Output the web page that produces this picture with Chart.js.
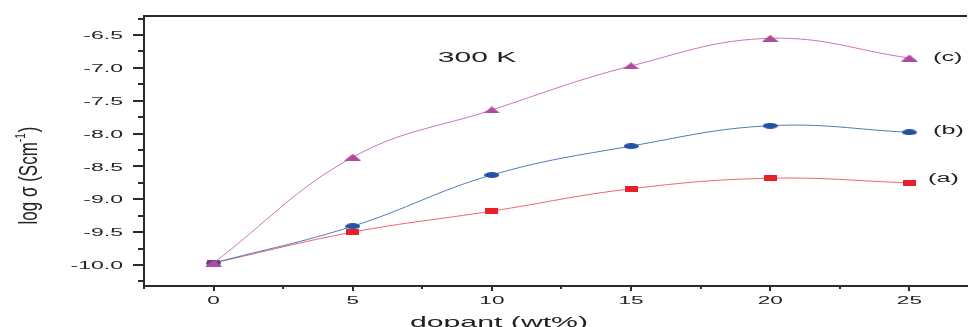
<!DOCTYPE html>
<html>
<head>
<meta charset="utf-8">
<script src="https://cdn.jsdelivr.net/npm/chart.js@4/dist/chart.umd.min.js"></script>
<style>
    html, body { margin: 0; padding: 0; background: #ffffff; }
    #wrap { width: 972px; height: 327px; position: relative; }
</style>
</head>
<body>
<div id="wrap"><canvas id="conductivityChart"></canvas></div>
<script>
// данные
const dopant = [0, 5, 10, 15, 20, 25];
const sampleA = [-9.97, -9.50, -9.18, -8.84, -8.68, -8.75];
const sampleB = [-9.97, -9.41, -8.63, -8.19, -7.88, -7.98];
const sampleC = [-9.97, -8.36, -7.64, -6.97, -6.55, -6.85];
const seriesLabels = ['(a)', '(b)', '(c)'];
const yTickValues = [-10.0, -9.5, -9.0, -8.5, -8.0, -7.5, -7.0, -6.5];
const xTickValues = [0, 5, 10, 15, 20, 25];
const tempLabel = '300 K';

const FONT = '"Liberation Sans", Arial, sans-serif';
const TEXT_COLOR = '#222';

function toPoints(values) {
    return dopant.map((d, i) => ({ x: d, y: values[i] }));
}

// приплюснутые маркеры как в исходной картинке
function makeMarker(shape, w, h, color) {
    const c = document.createElement('canvas');
    c.width = w;
    c.height = h;
    const g = c.getContext('2d');
    g.fillStyle = color;
    g.beginPath();
    if (shape === 'triangle') {
        g.moveTo(w / 2, 0);
        g.lineTo(w, h);
        g.lineTo(0, h);
        g.closePath();
    } else if (shape === 'ellipse') {
        g.ellipse(w / 2, h / 2, w / 2, h / 2, 0, 0, Math.PI * 2);
    } else {
        g.rect(0, 0, w, h);
    }
    g.fill();
    return c;
}

// текст растянут по горизонтали
function stretchedText(ctx, text, x, y, size, sx, align, baseline) {
    ctx.save();
    ctx.translate(x, y);
    ctx.scale(sx, 1);
    ctx.font = size + 'px ' + FONT;
    ctx.textAlign = align;
    ctx.textBaseline = baseline || 'middle';
    ctx.fillText(text, 0, 0);
    ctx.restore();
}

const decorPlugin = {
    id: 'decor',
    afterDraw(chart) {
        const { ctx, chartArea, scales } = chart;
        const xs = scales.x, ys = scales.y;
        ctx.save();
        ctx.strokeStyle = '#2a2a2a';
        ctx.fillStyle = TEXT_COLOR;
        ctx.lineWidth = 2;

        // верхняя граница рамки
        ctx.beginPath();
        ctx.moveTo(chartArea.left, chartArea.top);
        ctx.lineTo(chartArea.right, chartArea.top);
        ctx.stroke();

        // засечки оси Y
        for (let v = -10.25; v <= -6.25 + 1e-9; v += 0.25) {
            const py = Math.round(ys.getPixelForValue(v));
            const major = Math.abs(v * 2 - Math.round(v * 2)) < 1e-6;
            ctx.beginPath();
            ctx.moveTo(chartArea.left, py);
            ctx.lineTo(chartArea.left - (major ? 11 : 6), py);
            ctx.stroke();
        }
        // засечки оси X
        for (let v = -2.5; v <= 27; v += 2.5) {
            const px = Math.round(xs.getPixelForValue(v));
            const major = Math.abs(v % 5) < 1e-6;
            ctx.beginPath();
            ctx.moveTo(px, chartArea.bottom);
            ctx.lineTo(px, chartArea.bottom + (major ? 5 : 3));
            ctx.stroke();
        }

        // подписи делений
        yTickValues.forEach(v => {
            stretchedText(ctx, v.toFixed(1), 123, ys.getPixelForValue(v) + 1, 11.5, 2.0, 'right');
        });
        xTickValues.forEach(v => {
            stretchedText(ctx, String(v), xs.getPixelForValue(v), 300.5, 11, 2.05, 'center');
        });

        // подписи серий
        stretchedText(ctx, seriesLabels[2], 933, 58, 12, 2.1, 'left');
        stretchedText(ctx, seriesLabels[1], 933, 131, 12, 2.1, 'left');
        stretchedText(ctx, seriesLabels[0], 928, 179, 12, 2.1, 'left');

        // температура
        stretchedText(ctx, tempLabel, 477, 57.5, 15, 2.0, 'center');

        // подпись оси X
        stretchedText(ctx, 'dopant (wt%)', 499, 327, 14, 2.16, 'center', 'alphabetic');

        // подпись оси Y с верхним индексом
        ctx.translate(37, 176);
        ctx.rotate(-Math.PI / 2);
        ctx.scale(1, 1.5);
        ctx.textBaseline = 'alphabetic';
        ctx.textAlign = 'left';
        const main = 'log σ (Scm';
        const sup = '-1';
        const tail = ')';
        ctx.font = '17px ' + FONT;
        const w1 = ctx.measureText(main).width;
        const w3 = ctx.measureText(tail).width;
        ctx.font = '10px ' + FONT;
        const w2 = ctx.measureText(sup).width;
        const start = -(w1 + w2 + w3) / 2;
        ctx.font = '17px ' + FONT;
        ctx.fillText(main, start, 0);
        ctx.fillText(tail, start + w1 + w2 + 1, 0);
        ctx.font = '10px ' + FONT;
        ctx.fillText(sup, start + w1, -8);
        ctx.restore();
    }
};

const ctx = document.getElementById('conductivityChart');
new Chart(ctx, {
    type: 'line',
    data: {
        datasets: [
            {
                label: '(c)',
                data: toPoints(sampleC),
                borderColor: '#cc72bd',
                borderWidth: 1,
                pointStyle: makeMarker('triangle', 17, 7, '#b04c9c'),
                tension: 0.4
            },
            {
                label: '(b)',
                data: toPoints(sampleB),
                borderColor: '#5279b8',
                borderWidth: 1,
                pointStyle: makeMarker('ellipse', 15, 6, '#2352a2'),
                tension: 0.4
            },
            {
                label: '(a)',
                data: toPoints(sampleA),
                borderColor: '#f06470',
                borderWidth: 1,
                pointStyle: makeMarker('rect', 13, 6, '#e8202c'),
                tension: 0.4
            }
        ]
    },
    options: {
        responsive: true,
        maintainAspectRatio: false,
        animation: false,
        layout: { padding: { top: 16, left: 0, right: 0, bottom: 0 } },
        plugins: {
            legend: { display: false },
            tooltip: { enabled: false }
        },
        scales: {
            x: {
                type: 'linear',
                min: -2.5,
                max: 27.07,
                afterFit: s => { s.height = 41; s.paddingLeft = 0; s.paddingRight = 0; },
                afterBuildTicks: s => { s.ticks = xTickValues.map(v => ({ value: v })); },
                grid: { display: false },
                border: { display: true, color: '#2a2a2a', width: 2 },
                ticks: { display: false }
            },
            y: {
                min: -10.32,
                max: -6.21,
                afterFit: s => { s.width = 144; s.paddingTop = 0; s.paddingBottom = 0; },
                afterBuildTicks: s => { s.ticks = yTickValues.map(v => ({ value: v })); },
                grid: { display: false },
                border: { display: true, color: '#2a2a2a', width: 2 },
                ticks: { display: false }
            }
        }
    },
    plugins: [decorPlugin]
});
</script>
</body>
</html>
